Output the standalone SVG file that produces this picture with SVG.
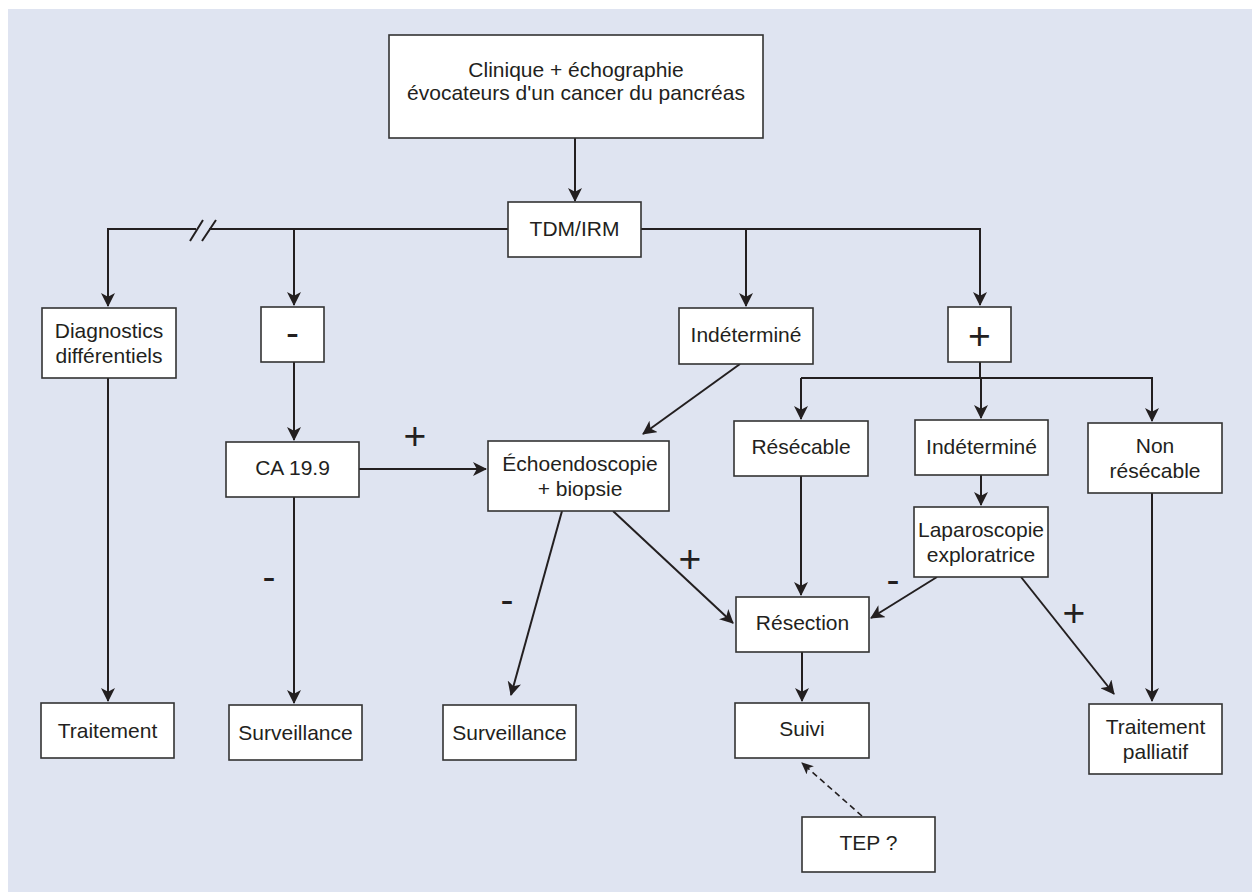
<svg xmlns="http://www.w3.org/2000/svg" width="1252" height="892" viewBox="0 0 1252 892">
<defs>
<marker id="arr" markerUnits="userSpaceOnUse" viewBox="0 0 14 14" markerWidth="14" markerHeight="14" refX="13" refY="7" orient="auto">
<path d="M0,0 L14,7 L0,14 L3.8,7 Z" fill="#231f20"/>
</marker>
<marker id="arrS" markerUnits="userSpaceOnUse" viewBox="0 0 12 12" markerWidth="12" markerHeight="12" refX="11" refY="6" orient="auto">
<path d="M0,0.5 L12,6 L0,11.5 L3,6 Z" fill="#231f20"/>
</marker>
<style>
.bx{fill:#ffffff;stroke:#333333;stroke-width:1.6}
.t{font-family:"Liberation Sans",Arial,Helvetica,sans-serif;font-size:21px;fill:#231f20;text-anchor:middle}
.lb{font-family:"Liberation Sans",Arial,Helvetica,sans-serif;font-size:39px;fill:#231f20;text-anchor:middle}
.c{fill:none;stroke:#231f20;stroke-width:2}
.a{fill:none;stroke:#231f20;stroke-width:2;marker-end:url(#arr)}
.d{fill:none;stroke:#231f20;stroke-width:1.6;stroke-dasharray:6 4;marker-end:url(#arrS)}
</style>
</defs>
<rect x="0" y="0" width="1252" height="892" fill="#ffffff"/>
<rect x="8" y="9" width="1244" height="883" fill="#dfe4f1"/>

<g id="connectors">
<path class="a" d="M575,138 V201"/>
<path class="a" d="M196,229 H108 V306"/>
<path class="c" d="M209,229 H508"/>
<path class="c" d="M190,241 L203,220 M202,241 L216,220"/>
<path class="a" d="M294,229 V305"/>
<path class="a" d="M641,229 H980 V305"/>
<path class="a" d="M746,229 V306"/>
<path class="c" d="M980,362 V378"/>
<path class="a" d="M801,378 H1152 V421"/>
<path class="a" d="M801,378 V419"/>
<path class="a" d="M981,378 V418"/>
<path class="a" d="M294,362 V440"/>
<path class="a" d="M359,469 H486"/>
<path class="a" d="M740,364 L643,434"/>
<path class="a" d="M801,476 V595"/>
<path class="a" d="M981,475 V505"/>
<path class="a" d="M108,378 V701"/>
<path class="a" d="M294,497 V703"/>
<path class="a" d="M562,511 L511,695"/>
<path class="a" d="M613,511 L733,623"/>
<path class="a" d="M937,577 L871,618"/>
<path class="a" d="M1021,577 L1114,694"/>
<path class="a" d="M1152,493 V701"/>
<path class="a" d="M802,652 V701"/>
<path class="d" d="M862,816 L802,763"/>
</g>

<g id="labels">
<text class="lb" x="415" y="449">+</text>
<text class="lb" x="269" y="590">-</text>
<text class="lb" x="507" y="613">-</text>
<text class="lb" x="690" y="572">+</text>
<text class="lb" x="893" y="593">-</text>
<text class="lb" x="1074" y="626">+</text>
</g>

<g id="n-clinique"><rect class="bx" x="389" y="35" width="374" height="103"/>
<text class="t" x="576" y="77">Clinique + échographie</text>
<text class="t" x="576" y="100">évocateurs d'un cancer du pancréas</text></g>

<g id="n-tdm"><rect class="bx" x="508" y="202" width="133" height="55"/>
<text class="t" x="574.5" y="236">TDM/IRM</text></g>

<g id="n-diag"><rect class="bx" x="42" y="308" width="134" height="70"/>
<text class="t" x="109" y="338">Diagnostics</text>
<text class="t" x="109" y="363">différentiels</text></g>

<g id="n-moins"><rect class="bx" x="261" y="307" width="63" height="55"/>
<text class="lb" x="292.5" y="346">-</text></g>

<g id="n-indet1"><rect class="bx" x="679" y="308" width="134" height="56"/>
<text class="t" x="746" y="342">Indéterminé</text></g>

<g id="n-plus"><rect class="bx" x="948" y="307" width="63" height="55"/>
<text class="lb" x="979.5" y="349">+</text></g>

<g id="n-resecable"><rect class="bx" x="734" y="421" width="134" height="55"/>
<text class="t" x="801" y="454">Résécable</text></g>

<g id="n-indet2"><rect class="bx" x="915" y="420" width="133" height="55"/>
<text class="t" x="981.5" y="454">Indéterminé</text></g>

<g id="n-nonres"><rect class="bx" x="1088" y="423" width="134" height="70"/>
<text class="t" x="1155" y="453">Non</text>
<text class="t" x="1155" y="478">résécable</text></g>

<g id="n-ca"><rect class="bx" x="226" y="442" width="133" height="55"/>
<text class="t" x="292.5" y="475">CA 19.9</text></g>

<g id="n-echo"><rect class="bx" x="488" y="441" width="181" height="70"/>
<text class="t" x="580" y="471">Échoendoscopie</text>
<text class="t" x="580" y="496">+ biopsie</text></g>

<g id="n-lapa"><rect class="bx" x="914" y="507" width="134" height="70"/>
<text class="t" x="981" y="537">Laparoscopie</text>
<text class="t" x="981" y="562">exploratrice</text></g>

<g id="n-resection"><rect class="bx" x="736" y="597" width="133" height="55"/>
<text class="t" x="802.5" y="630">Résection</text></g>

<g id="n-traitement"><rect class="bx" x="41" y="703" width="133" height="55"/>
<text class="t" x="107.5" y="738">Traitement</text></g>

<g id="n-surv1"><rect class="bx" x="229" y="705" width="133" height="55"/>
<text class="t" x="295.5" y="740">Surveillance</text></g>

<g id="n-surv2"><rect class="bx" x="443" y="705" width="133" height="55"/>
<text class="t" x="509.5" y="740">Surveillance</text></g>

<g id="n-suivi"><rect class="bx" x="735" y="703" width="134" height="55"/>
<text class="t" x="802" y="736">Suivi</text></g>

<g id="n-palliatif"><rect class="bx" x="1089" y="704" width="133" height="70"/>
<text class="t" x="1155.5" y="734">Traitement</text>
<text class="t" x="1155.5" y="759">palliatif</text></g>

<g id="n-tep"><rect class="bx" x="802" y="817" width="133" height="55"/>
<text class="t" x="868.5" y="850">TEP ?</text></g>
</svg>
